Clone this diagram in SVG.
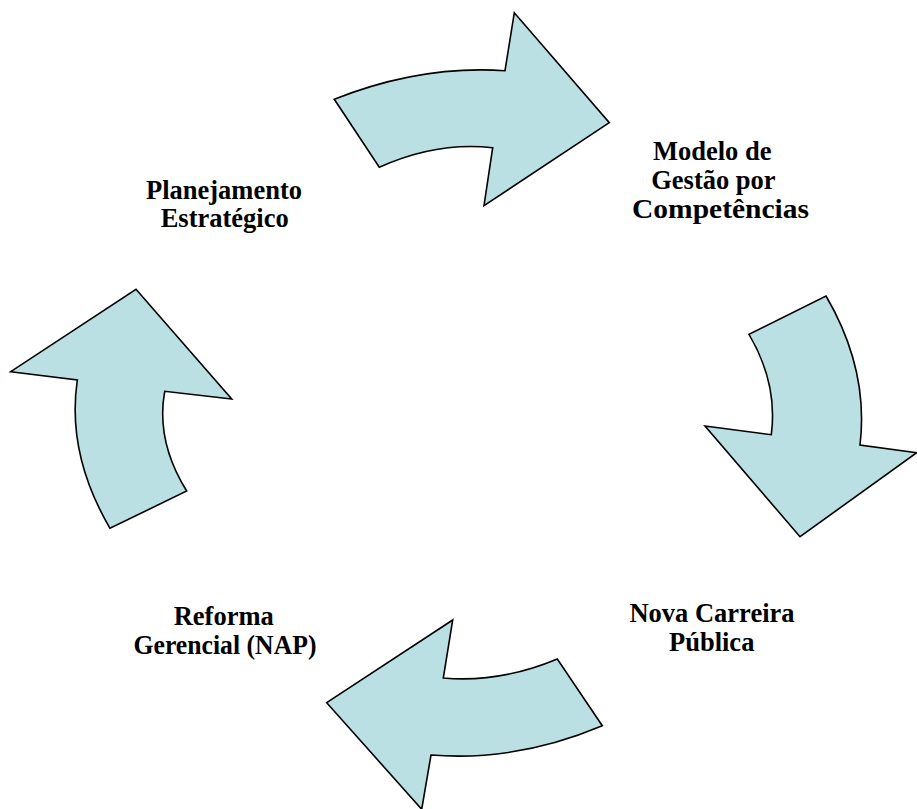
<svg xmlns="http://www.w3.org/2000/svg" width="917" height="809" viewBox="0 0 917 809">
  <style>
    .arrow { fill: #BBE0E3; stroke: #000000; stroke-width: 1.6; stroke-linejoin: miter; }
    .label { font-family: "Liberation Serif", "Times New Roman", serif; font-weight: bold; font-size: 26.5px; fill: #000000; text-anchor: middle; }
  </style>
  <rect x="0" y="0" width="917" height="809" fill="#FFFFFF"/>

  <!-- curved cycle arrows -->
  <g id="connectors">
    <path id="arrow-top" class="arrow" d="M334.3,99.3 Q420.4,65 505,70.7 L514.3,12.7 L609.3,122.7 L484,205.7 L492.7,147.7 Q436,141.5 379.3,167.3 Z"/>
    <path id="arrow-right" class="arrow" d="M826,296 Q869,369.5 860,445 L916.7,452.7 L800,536.7 L705,426 L771.3,434.7 Q778,383.5 749,334.3 Z"/>
    <path id="arrow-bottom" class="arrow" d="M602.3,725.7 Q516,762 431,755 L421.7,809.3 L326.7,702.7 L452.7,620 L443.3,678 Q500,683 557.3,659 Z"/>
    <path id="arrow-left" class="arrow" d="M110,528.3 Q66.5,454 77.3,380 L10.7,371.7 L136,289.3 L231.7,399 L164.7,391.3 Q155.7,441 186.7,491 Z"/>
  </g>

  <g id="planejamento">
    <text class="label" x="224" y="199">Planejamento</text>
    <text class="label" x="224.7" y="227">Estratégico</text>
  </g>

  <g id="modelo-competencias">
    <text class="label" x="712.2" y="160">Modelo de</text>
    <text class="label" x="713.4" y="189">Gestão por</text>
    <text class="label" x="720.5" y="218" textLength="177" lengthAdjust="spacingAndGlyphs">Competências</text>
  </g>

  <g id="nova-carreira">
    <text class="label" x="712" y="622">Nova Carreira</text>
    <text class="label" x="711.7" y="651">Pública</text>
  </g>

  <g id="reforma-gerencial">
    <text class="label" x="223.7" y="625">Reforma</text>
    <text class="label" x="225" y="654" textLength="183" lengthAdjust="spacingAndGlyphs">Gerencial (NAP)</text>
  </g>
</svg>
